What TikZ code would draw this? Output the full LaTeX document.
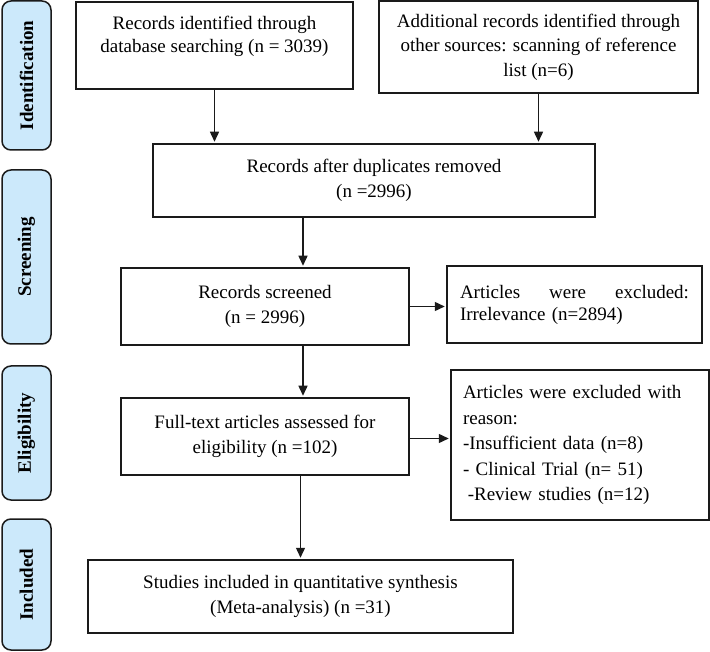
\documentclass[tikz,border=0pt]{standalone}
\usepackage{fontspec}
\setmainfont{Liberation Serif}
\usepackage{tikz}
\usetikzlibrary{arrows.meta, positioning, calc}
\definecolor{colStage}{HTML}{CCE9FB}
\definecolor{colLine} {HTML}{1A1A1A}
\tikzset{
  box/.style={
    draw=colLine, line width=1.5pt, align=center,
    inner sep=0pt, font=\fontsize{19}{24.5}\selectfont
  },
  stage/.style={
    draw=colLine, fill=colStage, rounded corners=9pt,
    line width=1.5pt, rotate=90, minimum height=49pt,
    inner sep=0pt, font=\fontsize{19}{22}\selectfont\bfseries
  },
  % flow arrows between the boxes
  farr/.style={
    -{Triangle[length=10pt,width=9pt]},
    line width=1.4pt, draw=colLine, shorten >=1.5pt
  }
}

\begin{document}
\begin{tikzpicture}[x=1pt, y=-1pt]
  \useasboundingbox (0,0) rectangle (710,652);
  % stage labels
  \node[stage, minimum width=149pt] (sIdent)  at (26.5,75.5)  {Identification};
  \node[stage, minimum width=174pt] (sScreen) at (26.5,257)   {Screening};
  \node[stage, minimum width=134pt] (sElig)   at (26.5,433)   {Eligibility};
  \node[stage, minimum width=131pt] (sIncl)   at (26.5,584.5) {Included};
  % boxes
  \node[box, minimum width=277pt, minimum height=87pt, font=\fontsize{19}{23}\selectfont] (ident) at (214.5,45.5)
    {Records identified through\\database searching (n = 3039)\\~};
  \node[box, minimum width=319pt, minimum height=92pt] (other) at (538.5,47)
    {Additional records identified through\\other sources: scanning of reference\\list (n=6)};
  \node[box, minimum width=442pt, minimum height=73pt] (dup) at (374,180.5)
    {Records after duplicates removed\\(n =2996)};
  \node[box, minimum width=288pt, minimum height=77pt] (screen) at (265,306.5)
    {Records screened\\(n = 2996)};
  \node[box, minimum width=255pt, minimum height=77pt, text width=229pt, align=left,
        font=\fontsize{19}{22}\selectfont] (irrel) at (574.5,304.5)
    {Articles\hfill were\hfill excluded:\\Irrelevance (n=2894)};
  \node[box, minimum width=288pt, minimum height=77pt] (full) at (265,436.5)
    {Full-text articles assessed for\\eligibility (n =102)};
  \node[box, minimum width=258pt, minimum height=150pt, text width=234pt, align=left,
        font=\fontsize{19}{25.5}\selectfont] (reasons) at (580,445)
    {Articles were excluded with\\reason:\\-Insufficient data (n=8)\\- Clinical Trial (n= 51)\\\hspace{0.25em}-Review studies (n=12)};
  \node[box, minimum width=425pt, minimum height=73pt] (incl) at (300.5,596.5)
    {Studies included in quantitative synthesis\\(Meta-analysis) (n =31)};
  % arrows
  \draw[farr] (ident.south) -- (ident.south |- dup.north);
  \draw[farr] (other.south) -- (other.south |- dup.north);
  \draw[farr] ([xshift=38pt]screen.north |- dup.south) -- ([xshift=38pt]screen.north);
  \draw[farr] (screen.east) -- (screen.east -| irrel.west);
  \draw[farr] ([xshift=38pt]screen.south) -- ([xshift=38pt]full.north);
  \draw[farr] ([yshift=-2pt]full.east) -- ([yshift=-2pt]full.east -| reasons.west);
  \draw[farr] (full.south -| incl.north) -- (incl.north);
\end{tikzpicture}
\end{document}
